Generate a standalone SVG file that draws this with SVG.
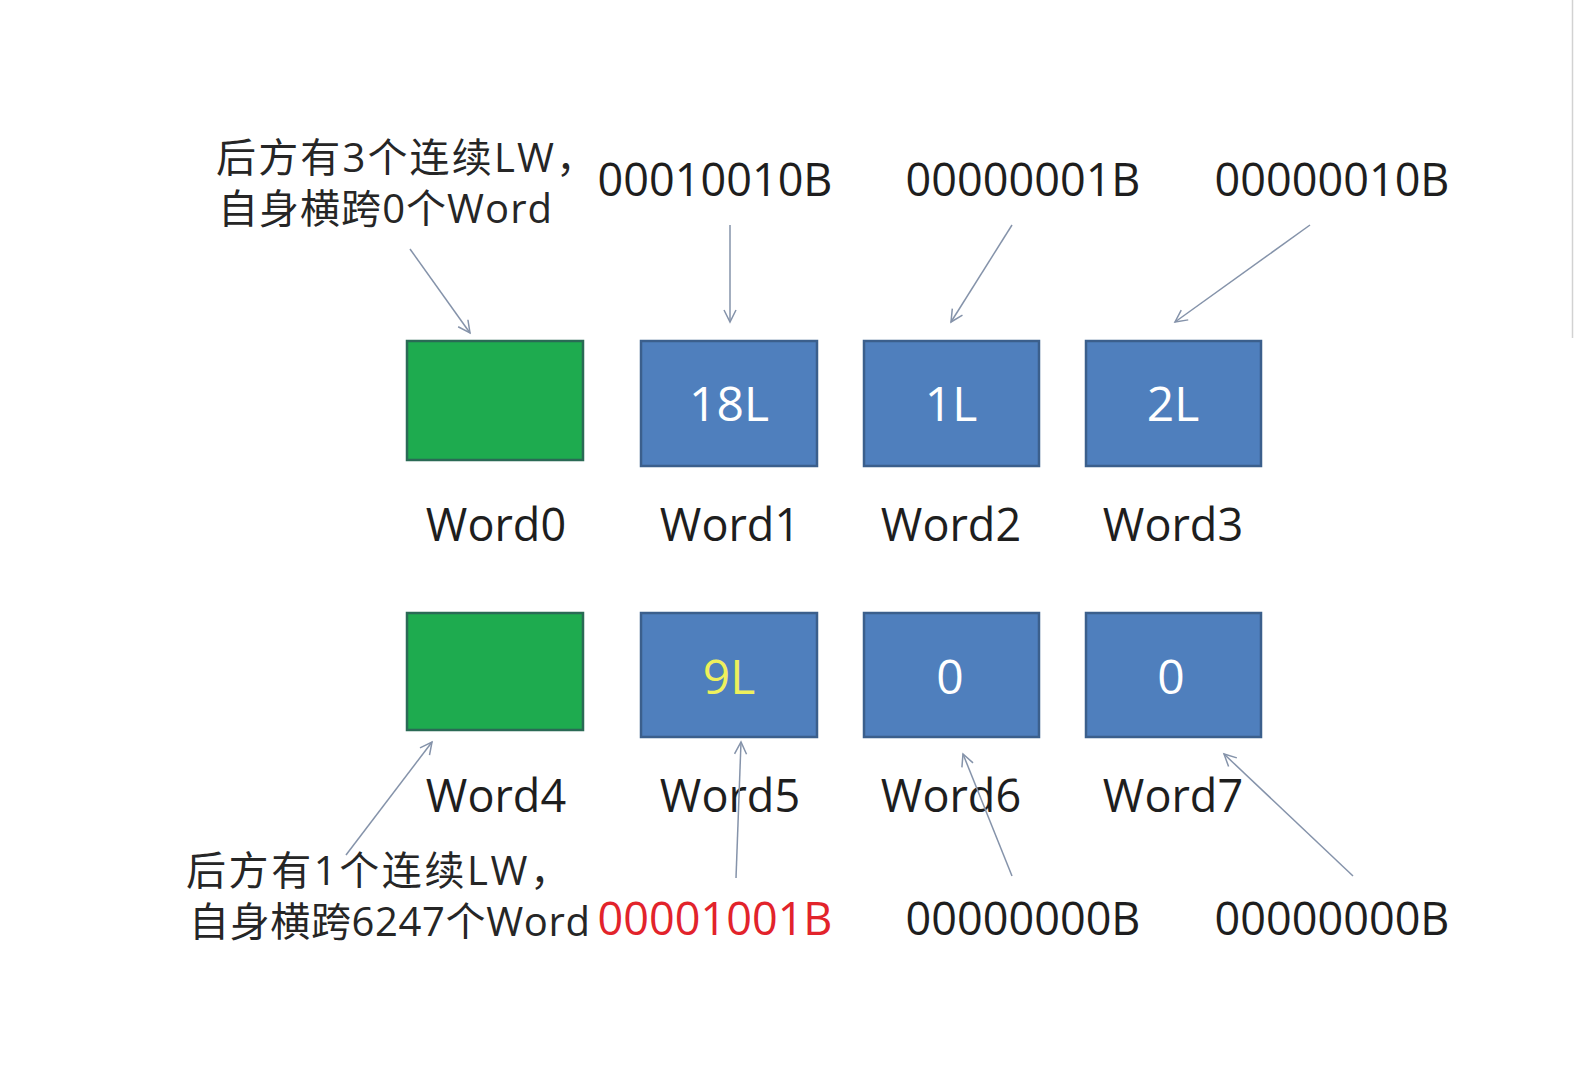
<svg xmlns="http://www.w3.org/2000/svg" width="1574" height="1080" viewBox="0 0 1574 1080">
<style>
  .lbl { font-family: "Open Sans", "Liberation Sans", sans-serif; font-size: 45px; fill: #1e1e1e; text-anchor: middle; }
  .bin { font-family: "Open Sans", "Liberation Sans", sans-serif; font-size: 45px; fill: #1e1e1e; text-anchor: middle; }
  .red { fill: #e2232b; }
  .in { font-family: "Open Sans", "Liberation Sans", sans-serif; font-size: 48px; fill: #ffffff; text-anchor: middle; }
  .yel { fill: #eef05c; }
  .cn { font-family: "Open Sans", "Noto Sans CJK SC", sans-serif; font-size: 40px; fill: #262626; }
  .blue { fill: #4f7fbd; stroke: #3b5f8c; stroke-width: 2.5; }
  .green { fill: #1eab4f; stroke: #2a6a55; stroke-width: 2.5; }
  .arrow { fill: none; stroke: #8593aa; stroke-width: 1.5; marker-end: url(#head); }
</style>
<defs>
  <marker id="head" markerUnits="userSpaceOnUse" markerWidth="16" markerHeight="16" refX="13" refY="7" orient="auto">
    <path d="M1,1 L13,7 L1,13" fill="none" stroke="#8593aa" stroke-width="1.5"/>
  </marker>
</defs>
<rect width="1574" height="1080" fill="#ffffff"/>
<line x1="1572.5" y1="0" x2="1572.5" y2="338" stroke="#d2d2d2" stroke-width="1.5"/>

<g id="note-top">
  <text class="cn" x="216" y="172" textLength="380" lengthAdjust="spacing">后方有3个连续LW，</text>
  <text class="cn" x="218" y="223" textLength="334" lengthAdjust="spacing">自身横跨0个Word</text>
</g>
<g id="note-bottom">
  <text class="cn" x="186" y="885" textLength="384" lengthAdjust="spacing">后方有1个连续LW，</text>
  <text class="cn" x="189" y="936" textLength="401" lengthAdjust="spacing">自身横跨6247个Word</text>
</g>

<g id="bin1"><text class="bin" x="715" y="196">00010010B</text></g>
<g id="bin2"><text class="bin" x="1023" y="196">00000001B</text></g>
<g id="bin3"><text class="bin" x="1332" y="196">00000010B</text></g>
<g id="bin5"><text class="bin red" x="715" y="935">00001001B</text></g>
<g id="bin6"><text class="bin" x="1023" y="935">00000000B</text></g>
<g id="bin7"><text class="bin" x="1332" y="935">00000000B</text></g>

<g id="word0">
  <rect class="green" x="407" y="341" width="176" height="119"/>
  <text class="lbl" x="496" y="541">Word0</text>
</g>
<g id="word1">
  <rect class="blue" x="641" y="341" width="176" height="125"/>
  <text class="in" x="729" y="421">18L</text>
  <text class="lbl" x="730" y="541">Word1</text>
</g>
<g id="word2">
  <rect class="blue" x="864" y="341" width="175" height="125"/>
  <text class="in" x="951" y="421">1L</text>
  <text class="lbl" x="951" y="541">Word2</text>
</g>
<g id="word3">
  <rect class="blue" x="1086" y="341" width="175" height="125"/>
  <text class="in" x="1173" y="421">2L</text>
  <text class="lbl" x="1173" y="541">Word3</text>
</g>
<g id="word4">
  <rect class="green" x="407" y="613" width="176" height="117"/>
  <text class="lbl" x="496" y="812">Word4</text>
</g>
<g id="word5">
  <rect class="blue" x="641" y="613" width="176" height="124"/>
  <text class="in yel" x="729" y="694">9L</text>
  <text class="lbl" x="730" y="812">Word5</text>
</g>
<g id="word6">
  <rect class="blue" x="864" y="613" width="175" height="124"/>
  <text class="in" x="950" y="694">0</text>
  <text class="lbl" x="951" y="812">Word6</text>
</g>
<g id="word7">
  <rect class="blue" x="1086" y="613" width="175" height="124"/>
  <text class="in" x="1171" y="694">0</text>
  <text class="lbl" x="1173" y="812">Word7</text>
</g>

<g id="connectors">
  <line class="arrow" x1="410" y1="249" x2="470" y2="333"/>
  <line class="arrow" x1="730" y1="225" x2="730" y2="322"/>
  <line class="arrow" x1="1012" y1="225" x2="951" y2="322"/>
  <line class="arrow" x1="1310" y1="225" x2="1175" y2="322"/>
  <line class="arrow" x1="346" y1="855" x2="432" y2="742"/>
  <line class="arrow" x1="736" y1="878" x2="741" y2="742"/>
  <line class="arrow" x1="1012" y1="876" x2="963" y2="754"/>
  <line class="arrow" x1="1353" y1="876" x2="1224" y2="754"/>
</g>
</svg>
